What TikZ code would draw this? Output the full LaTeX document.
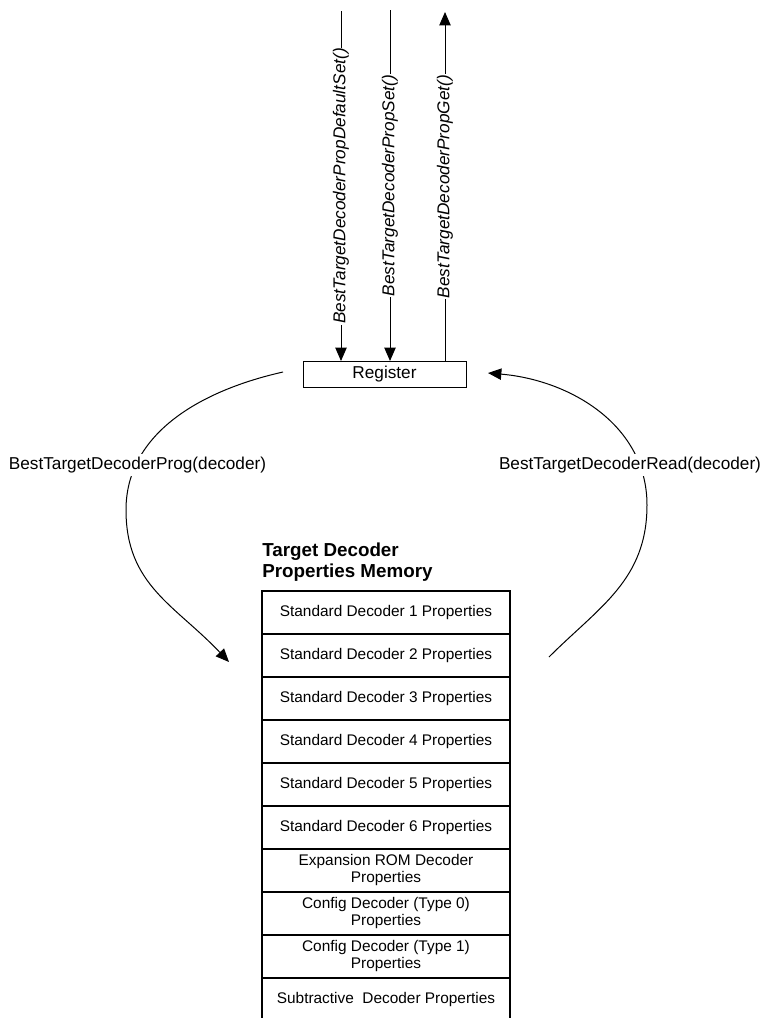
\documentclass[tikz,border=0pt]{standalone}
\usepackage{fontspec}
\setmainfont{Liberation Sans}
\usetikzlibrary{
    arrows.meta,
    positioning,
    calc
}
\tikzset{
    regbox/.style={
        draw,
        rectangle,
        minimum width=122.25pt,
        minimum height=19.5pt,
        inner sep=0pt,
        outer sep=0pt,
        line width=0.75pt,
        font=\fontsize{12.9pt}{15pt}\selectfont
    },
    memrow/.style={
        draw,
        rectangle,
        minimum width=186pt,
        minimum height=32.25pt,
        inner sep=0pt,
        outer sep=0pt,
        line width=1pt,
        align=center,
        font=\fontsize{11.55pt}{12.75pt}\selectfont
    },
    fnlabel/.style={
        rotate=90,
        fill=white,
        inner sep=0.5pt,
        font=\fontsize{12.9pt}{15pt}\selectfont\itshape
    },
    calllabel/.style={
        fill=white,
        inner sep=2pt,
        font=\fontsize{12.9pt}{15pt}\selectfont
    },
    memtitle/.style={
        inner sep=0pt,
        align=left,
        font=\fontsize{14.1pt}{15.75pt}\selectfont\bfseries
    },
    arr/.style={
        -{Triangle[length=10pt, width=8.5pt]},
        line width=0.75pt
    }
}

\begin{document}
\begin{tikzpicture}[
    x=0.75pt,
    y=-0.75pt,
    node distance=0pt
]
\useasboundingbox (0,0) rectangle (763,1018);

\node[regbox] (reg) at (384.5,374) {Register};

% memory table
\node[memrow] (m1) at (386,612.5) {Standard Decoder 1 Properties};
\node[memrow, below=of m1] (m2) {Standard Decoder 2 Properties};
\node[memrow, below=of m2] (m3) {Standard Decoder 3 Properties};
\node[memrow, below=of m3] (m4) {Standard Decoder 4 Properties};
\node[memrow, below=of m4] (m5) {Standard Decoder 5 Properties};
\node[memrow, below=of m5] (m6) {Standard Decoder 6 Properties};
\node[memrow, below=of m6] (m7) {Expansion ROM Decoder\\Properties};
\node[memrow, below=of m7] (m8) {Config Decoder (Type 0)\\Properties};
\node[memrow, below=of m8] (m9) {Config Decoder (Type 1)\\Properties};
\node[memrow, below=of m9] (m10) {Subtractive\ \ Decoder Properties};
\node[memtitle, above right=6.75pt and 0pt of m1.north west] (title) {Target Decoder\\Properties Memory};

% calls into the register
\coordinate (dfltin) at (341,11);
\coordinate (setin) at (390,10);
\coordinate (getout) at (445,12);
\draw[arr] (dfltin) -- node[fnlabel] {BestTargetDecoderPropDefaultSet()} (dfltin |- reg.north);
\draw[arr] (setin) -- node[fnlabel] {BestTargetDecoderPropSet()} (setin |- reg.north);
\draw[arr] (getout |- reg.north) -- node[fnlabel] {BestTargetDecoderPropGet()} (getout);

% program / read
\coordinate (progA) at ($(reg.west)+(-20,-2)$);
\coordinate (progB) at ($(m2.west)+(-33,6.5)$);
\draw[arr] (progA) .. controls (203,390) and (126,432) .. (126,510)
    .. controls (126,585) and (175,605) .. (progB);
\node[calllabel] (prog) at (137.5,465) {BestTargetDecoderProg(decoder)};

\coordinate (readA) at ($(m2.east)+(39,1.5)$);
\coordinate (readB) at ($(reg.east)+(22,-1)$);
\draw[arr] (readA) .. controls (599,607) and (647,580) .. (647,505)
    .. controls (647,425) and (570,380) .. (readB);
\node[calllabel] (read) at (630,465) {BestTargetDecoderRead(decoder)};

\end{tikzpicture}
\end{document}
